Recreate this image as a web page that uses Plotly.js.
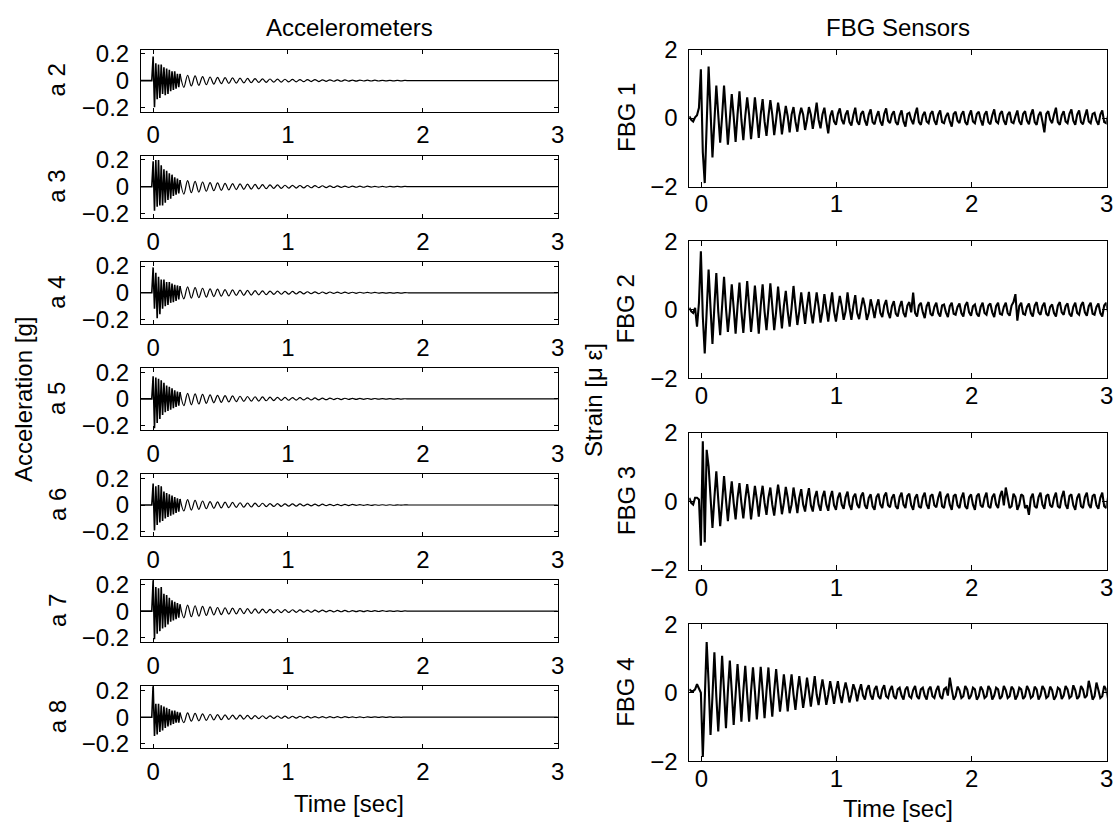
<!DOCTYPE html>
<html><head><meta charset="utf-8">
<script src="https://cdn.plot.ly/plotly-3.0.1.min.js"></script>
<style>html,body{margin:0;padding:0;background:#fff}#chart{width:1113px;height:832px}</style>
</head><body><div id="chart"></div>
<script>
// ---------------- DATA ----------------
const xTicks = [0, 1, 2, 3];
const accYTicks = [-0.2, 0, 0.2];
const fbgYTicks = [-2, 0, 2];
const accNames = ['a 2','a 3','a 4','a 5','a 6','a 7','a 8'];
const fbgNames = ['FBG 1','FBG 2','FBG 3','FBG 4'];

// sampling of the traces (seconds)
const accBurstX0 = -0.09, accBurstDx = 0.01;
const accTailX0 = 0.2, accTailDx = 1/36;
const fbgX0 = -0.09, fbgDx = 1/70;

// accelerometer records, first part (t = -0.09 ... 0.20 s)  [g]
const a2Burst = [0,0,0,0,0,0,0,0,0,0.18,-0.2,0.13,-0.14,0.12,-0.13,0.12,-0.1,0.1,-0.11,0.09,-0.1,0.08,-0.08,0.07,-0.07,0.07,-0.06,0.05,-0.05,0.05];
const a3Burst = [0,0,0,0,0,0,0,0,0,0.19,-0.18,0.2,-0.15,0.2,-0.14,0.16,-0.14,0.13,-0.12,0.12,-0.1,0.1,-0.09,0.09,-0.07,0.07,-0.06,0.06,-0.05,0.05];
const a4Burst = [0,0,0,0,0,0,0,0,0,0.19,-0.12,0.15,-0.19,0.12,-0.16,0.1,-0.12,0.1,-0.1,0.08,-0.09,0.08,-0.075,0.07,-0.07,0.06,-0.06,0.055,-0.05,0.05];
const a5Burst = [0,0,0,0,0,0,0,0,0,0.17,-0.22,0.16,-0.18,0.15,-0.15,0.14,-0.12,0.12,-0.1,0.1,-0.09,0.09,-0.08,0.08,-0.07,0.065,-0.06,0.055,-0.05,0.05];
const a6Burst = [0,0,0,0,0,0,0,0,0,0.16,-0.19,0.14,-0.15,0.15,-0.13,0.14,-0.12,0.1,-0.1,0.09,-0.09,0.08,-0.08,0.07,-0.07,0.06,-0.06,0.05,-0.05,0.045];
const a7Burst = [0,0,0,0,0,0,0,0,0,0.23,-0.21,0.18,-0.17,0.17,-0.15,0.18,-0.13,0.13,-0.12,0.12,-0.1,0.1,-0.08,0.08,-0.07,0.07,-0.06,0.06,-0.05,0.05];
const a8Burst = [0,0,0,0,0,0,0,0,0,0.25,-0.14,0.1,-0.13,0.1,-0.11,0.09,-0.1,0.08,-0.08,0.07,-0.07,0.06,-0.06,0.05,-0.05,0.05,-0.04,0.04,-0.04,0.035];

// accelerometer records, decaying part (t = 0.20 ... 3.0 s)  [g]
const a2Tail = [0.05,-0.05,0.04,-0.04,0.035,-0.035,0.03,-0.03,0.027,-0.026,0.024,-0.023,0.022,-0.021,0.02,-0.019,0.018,-0.017,0.016,-0.016,0.015,-0.014,0.013,-0.013,0.012,-0.012,0.011,-0.011,0.01,-0.01,0.009,-0.009,0.008,-0.008,0.008,-0.007,0.007,-0.007,0.006,-0.006,0.006,-0.005,0.005,-0.005,0.005,-0.004,0.004,-0.004,0.004,-0.003,0.003,-0.003,0.003,-0.003,0.002,-0.002,0.002,-0.002,0.002,-0.002,0.001,0,0,0,0,0,0,0,0,0,0,0,0,0,0,0,0,0,0,0,0,0,0,0,0,0,0,0,0,0,0,0,0,0,0,0,0,0,0,0,0,0];
const a3Tail = [0.05,-0.055,0.045,-0.045,0.04,-0.04,0.035,-0.034,0.031,-0.03,0.028,-0.027,0.025,-0.024,0.023,-0.022,0.021,-0.02,0.019,-0.018,0.017,-0.016,0.015,-0.015,0.014,-0.013,0.013,-0.012,0.011,-0.011,0.01,-0.01,0.009,-0.009,0.009,-0.008,0.008,-0.007,0.007,-0.007,0.006,-0.006,0.006,-0.005,0.005,-0.005,0.005,-0.004,0.004,-0.004,0.004,-0.003,0.003,-0.003,0.003,-0.003,0.002,-0.002,0.002,-0.002,0.002,0,0,0,0,0,0,0,0,0,0,0,0,0,0,0,0,0,0,0,0,0,0,0,0,0,0,0,0,0,0,0,0,0,0,0,0,0,0,0,0,0];
const a4Tail = [0.05,-0.045,0.045,-0.04,0.038,-0.036,0.034,-0.032,0.03,-0.028,0.027,-0.025,0.024,-0.023,0.022,-0.02,0.02,-0.019,0.018,-0.017,0.016,-0.015,0.015,-0.014,0.013,-0.012,0.012,-0.011,0.011,-0.01,0.01,-0.009,0.009,-0.008,0.008,-0.007,0.007,-0.007,0.006,-0.006,0.006,-0.005,0.005,-0.005,0.005,-0.004,0.004,-0.004,0.004,-0.003,0.003,-0.003,0.003,-0.003,0.002,-0.002,0.002,-0.002,0.002,-0.002,0.001,0,0,0,0,0,0,0,0,0,0,0,0,0,0,0,0,0,0,0,0,0,0,0,0,0,0,0,0,0,0,0,0,0,0,0,0,0,0,0,0,0];
const a5Tail = [0.05,-0.05,0.042,-0.044,0.038,-0.038,0.034,-0.033,0.03,-0.029,0.027,-0.026,0.024,-0.023,0.022,-0.021,0.02,-0.019,0.018,-0.017,0.016,-0.016,0.015,-0.014,0.013,-0.013,0.012,-0.011,0.011,-0.01,0.01,-0.009,0.009,-0.008,0.008,-0.008,0.007,-0.007,0.006,-0.006,0.006,-0.005,0.005,-0.005,0.005,-0.004,0.004,-0.004,0.004,-0.003,0.003,-0.003,0.003,-0.002,0.002,-0.002,0.002,-0.002,0.002,-0.001,0.001,0,0,0,0,0,0,0,0,0,0,0,0,0,0,0,0,0,0,0,0,0,0,0,0,0,0,0,0,0,0,0,0,0,0,0,0,0,0,0,0,0];
const a6Tail = [0.045,-0.045,0.04,-0.038,0.034,-0.032,0.03,-0.028,0.026,-0.025,0.023,-0.022,0.021,-0.02,0.019,-0.018,0.017,-0.016,0.015,-0.015,0.014,-0.013,0.013,-0.012,0.011,-0.011,0.01,-0.01,0.009,-0.009,0.009,-0.008,0.008,-0.007,0.007,-0.007,0.006,-0.006,0.006,-0.005,0.005,-0.005,0.005,-0.004,0.004,-0.004,0.004,-0.003,0.003,-0.003,0.003,-0.003,0.002,-0.002,0.002,-0.002,0.002,-0.002,0.001,-0.001,0.001,0,0,0,0,0,0,0,0,0,0,0,0,0,0,0,0,0,0,0,0,0,0,0,0,0,0,0,0,0,0,0,0,0,0,0,0,0,0,0,0,0];
const a7Tail = [0.05,-0.05,0.045,-0.042,0.04,-0.038,0.035,-0.033,0.031,-0.029,0.027,-0.026,0.025,-0.023,0.022,-0.021,0.02,-0.019,0.018,-0.017,0.016,-0.016,0.015,-0.014,0.013,-0.013,0.012,-0.011,0.011,-0.01,0.01,-0.009,0.009,-0.008,0.008,-0.008,0.007,-0.007,0.007,-0.006,0.006,-0.006,0.005,-0.005,0.005,-0.005,0.004,-0.004,0.004,-0.004,0.003,-0.003,0.003,-0.003,0.003,-0.002,0.002,-0.002,0.002,-0.002,0.001,0,0,0,0,0,0,0,0,0,0,0,0,0,0,0,0,0,0,0,0,0,0,0,0,0,0,0,0,0,0,0,0,0,0,0,0,0,0,0,0,0];
const a8Tail = [0.035,-0.04,0.032,-0.03,0.028,-0.027,0.025,-0.024,0.022,-0.021,0.02,-0.019,0.018,-0.017,0.016,-0.015,0.015,-0.014,0.013,-0.013,0.012,-0.011,0.011,-0.01,0.01,-0.009,0.009,-0.008,0.008,-0.008,0.007,-0.007,0.007,-0.006,0.006,-0.006,0.005,-0.005,0.005,-0.005,0.004,-0.004,0.004,-0.004,0.004,-0.003,0.003,-0.003,0.003,-0.003,0.002,-0.002,0.002,-0.002,0.002,-0.002,0.002,-0.001,0.001,-0.001,0.001,0,0,0,0,0,0,0,0,0,0,0,0,0,0,0,0,0,0,0,0,0,0,0,0,0,0,0,0,0,0,0,0,0,0,0,0,0,0,0,0,0];

// FBG strain records (t = -0.09 ... 3.0 s, 70 samples per second)  [micro-strain]
const fbg1 = [
 0.05,-0.05,-0.1,0.02,0.08,0.3,1.42,-1.0,-1.9,0.1,1.5,0.2,-1.15,-0.1,0.95,0.1,-0.72,0.05,0.95,0.1,
 -0.78,-0.05,0.7,0.05,-0.7,0.1,0.78,-0.05,-0.65,0.05,0.6,0.1,-0.62,-0.05,0.6,0.05,-0.58,0.1,0.55,-0.1,
 -0.52,0.05,0.52,0.1,-0.5,-0.05,0.45,0.1,-0.48,-0.05,0.35,0.05,-0.42,0.1,0.32,-0.1,-0.4,0.05,0.3,0.1,
 -0.35,-0.05,0.32,0.1,-0.32,0.05,0.45,-0.05,-0.3,0.1,0.3,-0.1,-0.45,0.05,0.22,-0.1,-0.2,0.12,0.28,-0.05,
 -0.18,0.1,0.22,-0.12,-0.22,0.08,0.3,-0.1,-0.2,0.12,0.2,-0.08,-0.22,0.1,0.25,-0.12,-0.18,0.05,0.2,-0.1,
 -0.22,0.12,0.28,-0.08,-0.15,0.1,0.2,-0.12,-0.2,0.08,0.22,-0.1,-0.25,0.12,0.15,-0.05,-0.18,0.1,0.3,-0.12,
 -0.2,0.08,0.18,-0.1,-0.15,0.12,0.2,-0.08,-0.2,0.1,0.22,-0.12,-0.15,0.05,0.15,-0.1,-0.25,0.12,0.18,-0.08,
 -0.15,0.1,0.2,-0.12,-0.2,0.08,0.22,-0.1,-0.15,0.12,0.18,-0.05,-0.22,0.1,0.2,-0.12,-0.18,0.08,0.25,-0.1,
 -0.15,0.12,0.2,-0.08,-0.2,0.1,0.18,-0.12,-0.15,0.05,0.22,-0.1,-0.2,0.12,0.2,-0.08,-0.18,0.1,0.25,-0.12,
 -0.2,0.08,0.18,-0.1,-0.42,0.12,0.2,-0.05,-0.15,0.1,0.3,-0.12,-0.2,0.08,0.2,-0.1,-0.15,0.12,0.25,-0.08,
 -0.2,0.1,0.22,-0.12,-0.18,0.05,0.25,-0.1,-0.15,0.12,0.15,-0.08,-0.2,0.1,0.22,-0.12,-0.15,0.08,0.2,-0.1];
const fbg2 = [
 0.05,-0.05,-0.1,0.05,-0.5,0.2,1.7,-0.2,-1.28,0.1,1.17,0.05,-1.0,0.1,1.07,-0.05,-0.75,0.1,0.96,0.05,
 -0.65,-0.05,0.74,0.05,-0.7,0.1,0.79,-0.05,-0.68,0.05,0.83,0.1,-0.65,-0.05,0.7,0.05,-0.7,0.1,0.74,-0.05,
 -0.6,0.05,0.77,0.1,-0.6,-0.05,0.67,0.05,-0.55,0.1,0.55,-0.05,-0.5,0.05,0.69,0.1,-0.45,-0.05,0.5,0.05,
 -0.42,0.1,0.52,-0.05,-0.4,0.05,0.5,0.1,-0.38,-0.05,0.45,0.05,-0.35,0.1,0.5,-0.05,-0.35,0.05,0.4,0.1,
 -0.3,-0.05,0.5,0.05,-0.3,0.1,0.42,-0.1,-0.28,0.05,0.35,0.1,-0.3,-0.1,0.3,0.05,-0.25,0.1,0.3,-0.1,
 -0.22,0.12,0.28,-0.08,-0.25,0.1,0.25,-0.12,-0.2,0.08,0.25,-0.1,-0.22,0.12,0.22,-0.08,0.5,-0.1,-0.2,0.12,
 0.2,-0.08,-0.25,0.1,0.22,-0.12,-0.18,0.08,0.2,-0.1,-0.2,0.12,0.15,-0.08,-0.22,0.1,0.2,-0.12,-0.15,0.08,
 0.18,-0.1,-0.2,0.12,0.22,-0.08,-0.18,0.1,0.15,-0.12,-0.2,0.08,0.2,-0.1,-0.15,0.12,0.18,-0.08,-0.22,0.1,
 0.2,-0.12,-0.15,0.08,0.2,-0.1,-0.18,0.12,0.22,0.45,-0.32,0.1,0.2,-0.12,-0.15,0.08,0.18,-0.1,-0.2,0.12,
 0.22,-0.08,-0.15,0.1,0.2,-0.12,-0.18,0.08,0.15,-0.1,-0.2,0.12,0.22,-0.08,-0.15,0.1,0.18,-0.12,-0.2,0.08,
 0.2,-0.1,-0.15,0.12,0.22,-0.08,-0.18,0.1,0.2,-0.12,-0.15,0.08,0.18,-0.1,-0.2,0.12,0.2,-0.08,-0.15,0.1];
const fbg3 = [
 0.1,-0.05,-0.1,0.1,0.1,0.05,-1.3,1.75,-1.2,1.5,1.02,0.1,-0.78,0.1,0.87,0.05,-0.73,-0.05,0.73,0.05,
 -0.58,0.05,0.58,-0.05,-0.53,0.1,0.53,-0.05,-0.5,0.05,0.5,0.1,-0.53,-0.05,0.45,0.05,-0.45,0.1,0.45,-0.05,
 -0.4,0.1,0.4,-0.1,-0.42,0.05,0.48,0.1,-0.38,-0.05,0.42,0.1,-0.35,-0.1,0.4,0.05,-0.35,0.1,0.35,-0.1,
 -0.3,0.1,0.38,-0.12,-0.3,0.1,0.3,-0.1,-0.28,0.12,0.3,-0.1,-0.28,0.1,0.3,-0.12,-0.25,0.1,0.25,-0.1,
 -0.22,0.12,0.28,-0.1,-0.25,0.12,0.22,-0.1,-0.2,0.15,0.25,-0.12,-0.22,0.1,0.2,-0.15,-0.25,0.12,0.22,-0.1,
 -0.2,0.15,0.25,-0.12,-0.18,0.1,0.2,-0.15,-0.22,0.12,0.25,-0.1,-0.2,0.15,0.22,-0.12,-0.25,0.1,0.2,-0.15,
 -0.2,0.12,0.25,-0.1,-0.22,0.15,0.2,-0.12,-0.18,0.1,0.28,-0.15,-0.2,0.12,0.22,-0.1,-0.25,0.15,0.2,-0.12,
 -0.2,0.1,0.25,-0.15,-0.22,0.12,0.2,-0.1,-0.25,0.15,0.22,-0.12,-0.18,0.1,0.25,-0.15,-0.2,0.12,0.22,-0.1,
 -0.2,0.15,0.3,-0.12,0.4,0.1,-0.2,-0.15,0.22,0.12,-0.25,-0.1,0.2,0.15,-0.2,-0.12,-0.4,0.1,0.22,-0.15,
 -0.2,0.12,0.25,-0.1,-0.22,0.15,0.2,-0.12,-0.18,0.1,0.25,-0.15,-0.2,0.12,0.3,-0.1,-0.22,0.15,0.2,-0.12,
 -0.25,0.1,0.22,-0.15,-0.2,0.12,0.25,-0.1,-0.2,0.15,0.2,-0.12,-0.22,0.1,0.25,-0.15,-0.2,0.12,0.2,-0.1];
const fbg4 = [
 0.1,0.05,0.05,0.1,0.25,0.1,0.0,-1.87,-0.3,1.48,0.3,-1.23,-0.1,1.18,-0.1,-1.13,-0.1,1.08,0.05,-1.03,
 0.05,0.94,0.05,-0.94,-0.05,0.84,0.05,-0.84,0.05,0.79,-0.05,-0.84,0.05,0.74,0.05,-0.78,-0.05,0.76,0.05,-0.74,
 0.05,0.74,-0.05,-0.7,0.05,0.69,0.05,-0.55,-0.05,0.54,0.05,-0.54,0.05,0.54,-0.05,-0.5,0.05,0.49,0.05,-0.44,
 -0.05,0.44,0.05,-0.4,0.05,0.49,-0.05,-0.36,0.05,0.39,0.05,-0.35,-0.05,0.34,0.05,-0.32,0.05,0.34,-0.05,-0.3,
 0.05,0.3,0.05,-0.28,-0.05,0.25,0.08,-0.25,0.05,0.25,-0.08,-0.2,0.1,0.22,-0.08,-0.2,0.1,0.2,-0.1,-0.18,
 0.1,0.22,-0.1,-0.15,0.08,0.2,-0.1,-0.18,0.1,0.15,-0.08,-0.2,0.1,0.18,-0.1,-0.15,0.08,0.2,-0.1,-0.18,
 0.1,0.15,-0.08,-0.2,0.1,0.18,-0.1,-0.15,0.08,0.2,-0.1,-0.18,0.1,0.15,-0.08,0.44,0.1,-0.2,-0.1,0.18,
 0.08,-0.15,-0.1,0.2,0.1,-0.18,-0.08,0.15,0.1,-0.2,-0.1,0.18,0.08,-0.15,-0.1,0.2,0.1,-0.2,-0.08,0.15,
 0.1,-0.18,-0.1,0.2,0.08,-0.15,-0.1,0.18,0.1,-0.2,-0.08,0.15,0.1,-0.18,-0.1,0.2,0.08,-0.15,-0.1,0.18,
 0.1,-0.2,-0.08,0.2,0.1,-0.15,-0.1,0.18,0.08,-0.2,-0.1,0.15,0.1,-0.18,-0.08,0.2,0.1,-0.15,-0.1,0.22,
 0.08,-0.18,-0.1,0.2,0.1,-0.15,-0.08,0.35,0.1,-0.2,-0.1,0.3,0.08,-0.15,-0.1,0.2,0.1,-0.18,-0.08,0.15];

const accBursts = [a2Burst,a3Burst,a4Burst,a5Burst,a6Burst,a7Burst,a8Burst];
const accTails = [a2Tail,a3Tail,a4Tail,a5Tail,a6Tail,a7Tail,a8Tail];
const fbgSeries = [fbg1,fbg2,fbg3,fbg4];

// ---------------- LAYOUT ----------------
const W = 1113, H = 832;
const FONT = '"Liberation Sans", Arial, Helvetica, sans-serif';
const FS = 24;
const leftX = [141, 557.7], rightX = [689.3, 1106.7];
const accTop0 = 49.6, accStep = 106.1, accH = 62;
const fbgTop0 = 49.5, fbgStep = 191.6, fbgH = 137;

function xd(p){ return [p[0]/W, p[1]/W]; }
function yd(top, h){ return [1-(top+h)/H, 1-top/H]; }

const axBase = {
  showline:true, linecolor:'#000', linewidth:1, mirror:'ticks',
  ticks:'inside', tickcolor:'#000', tickwidth:1,
  showgrid:false, zeroline:false, fixedrange:true,
  ticklabeloverflow:'allow',
  tickfont:{family:FONT, size:FS, color:'#000'}
};

const traces = [];
const layout = {
  width:W, height:H, autosize:false,
  margin:{l:0,r:0,t:0,b:0,pad:0},
  paper_bgcolor:'#fff', plot_bgcolor:'#fff',
  showlegend:false, hovermode:false,
  font:{family:FONT, size:FS, color:'#000'},
  annotations:[]
};

function ann(text, xpx, ypx, angle){
  layout.annotations.push({text:text, xref:'paper', yref:'paper', x:xpx/W, y:1-ypx/H,
    xanchor:'center', yanchor:'middle', showarrow:false, textangle:angle||0,
    font:{family:FONT, size:FS, color:'#000'}});
}

let axn = 0;
accNames.forEach((nm, k) => {
  axn++;
  const sx = axn===1 ? '' : String(axn);
  const top = accTop0 + k*accStep;
  traces.push({type:'scatter', mode:'lines', x0:accBurstX0, dx:accBurstDx, y:accBursts[k],
    xaxis:'x'+sx, yaxis:'y'+sx, line:{color:'#000', width:1.6}, hoverinfo:'skip'});
  traces.push({type:'scatter', mode:'lines', x0:accTailX0, dx:accTailDx, y:accTails[k],
    xaxis:'x'+sx, yaxis:'y'+sx, line:{color:'#000', width:1.2, shape:'spline', smoothing:1}, hoverinfo:'skip'});
  layout['xaxis'+sx] = Object.assign({}, axBase, {domain:xd(leftX), range:[-0.09,3], anchor:'y'+sx,
    tickmode:'array', tickvals:xTicks, ticklen:4, ticklabelstandoff:2});
  layout['yaxis'+sx] = Object.assign({}, axBase, {domain:yd(top, accH), range:[-0.232,0.232], anchor:'x'+sx,
    tickmode:'array', tickvals:accYTicks, ticklen:4, ticklabelstandoff:6});
  ann(nm, 57, top + accH/2, -90);
});

fbgNames.forEach((nm, k) => {
  axn++;
  const sx = String(axn);
  const top = fbgTop0 + k*fbgStep;
  traces.push({type:'scatter', mode:'lines', x0:fbgX0, dx:fbgDx, y:fbgSeries[k],
    xaxis:'x'+sx, yaxis:'y'+sx, line:{color:'#000', width:2.1}, hoverinfo:'skip'});
  layout['xaxis'+sx] = Object.assign({}, axBase, {domain:xd(rightX), range:[-0.09,3], anchor:'y'+sx,
    tickmode:'array', tickvals:xTicks, ticklen:5, ticklabelstandoff:-4});
  layout['yaxis'+sx] = Object.assign({}, axBase, {domain:yd(top, fbgH), range:[-2,2], anchor:'x'+sx,
    tickmode:'array', tickvals:fbgYTicks, ticklen:5, ticklabelstandoff:6});
  ann(nm, 626, top + fbgH/2, -90);
});

ann('Accelerometers', 349.3, 27, 0);
ann('FBG Sensors', 898, 27, 0);
ann('Time [sec]', 349.3, 803, 0);
ann('Time [sec]', 898, 808, 0);
ann('Acceleration [g]', 23, 400, -90);
ann('Strain [\u03bc \u03b5]', 593, 400, -90);

Plotly.newPlot('chart', traces, layout, {staticPlot:true, displayModeBar:false});
</script>
</body></html>
